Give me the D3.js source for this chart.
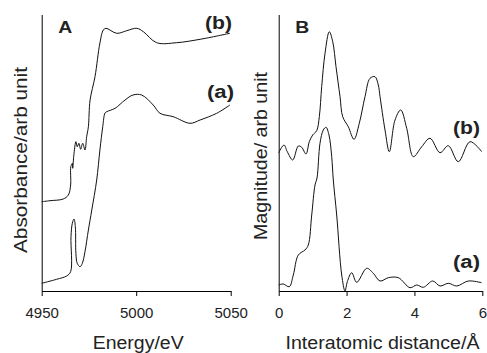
<!DOCTYPE html>
<html>
<head>
<meta charset="utf-8">
<script src="https://cdn.jsdelivr.net/npm/d3@7"></script>
<style>
  body { margin: 0; background: #fff; }
  svg { display: block; font-family: "Liberation Sans", Arial, sans-serif; }
</style>
</head>
<body>
<svg id="chart" width="487" height="353"></svg>
<script>
// Panel A: XANES, energy (eV) vs absorbance (arb. unit)
const energyA = [4950, 4957.9, 4963.2, 4965.3, 4965.5, 4966.2, 4967.1, 4967.8, 4968.1, 4968.8, 4970.3, 4971.5, 4972.9, 4974.7, 4976.5, 4979.1, 4980.8, 4982.3, 4983.5, 4984.4, 4988.8, 4994.1, 4998.3, 5002.9, 5009.0, 5012.6, 5019.6, 5028.5, 5033.8, 5042.6, 5049.6];
const absA    = [0.077, 0.117, 0.15, 0.193, 0.543, 0.677, 0.72, 0.643, 0.377, 0.277, 0.243, 0.277, 0.393, 0.61, 0.81, 1.11, 1.41, 1.643, 1.78, 1.793, 1.827, 1.91, 1.96, 1.96, 1.86, 1.777, 1.743, 1.677, 1.71, 1.777, 1.86];

const energyB = [4950, 4954.4, 4961.4, 4964.1, 4965.3, 4965.4, 4966.2, 4966.4, 4967.1, 4968.1, 4968.8, 4969.7, 4970.6, 4971.7, 4972.9, 4973.8, 4974.7, 4975.6, 4978.2, 4980.8, 4982.6, 4984.0, 4989.7, 4995.0, 5000.3, 5003.8, 5010.8, 5021.4, 5033.8, 5049.6];
const absB    = [0.893, 0.903, 0.92, 0.96, 1.06, 1.243, 1.277, 1.227, 1.377, 1.493, 1.443, 1.477, 1.417, 1.477, 1.41, 1.543, 1.643, 1.91, 2.143, 2.48, 2.61, 2.627, 2.577, 2.603, 2.627, 2.593, 2.483, 2.483, 2.517, 2.577];

// Panel B: Fourier transform magnitude vs interatomic distance (Å)
const distA = [0, 0.136, 0.312, 0.43, 0.578, 0.775, 0.872, 0.973, 1.07, 1.129, 1.217, 1.314, 1.394, 1.482, 1.562, 1.609, 1.709, 1.857, 1.954, 2.022, 2.151, 2.299, 2.594, 2.788, 2.986, 3.23, 3.525, 3.87, 4.067, 4.262, 4.539, 4.754, 4.998, 5.246, 5.588, 5.98];
const magA  = [0.06, 0.07, 0.043, 0.16, 0.36, 0.41, 0.46, 0.76, 1.06, 1.13, 1.477, 1.61, 1.637, 1.56, 1.343, 1.11, 0.76, 0.16, 0, 0.093, 0.183, 0.087, 0.227, 0.177, 0.1, 0.133, 0.133, 0.033, 0.06, 0.037, 0.1, 0.05, 0.077, 0.05, 0.1, 0.083];

const distB = [0, 0.156, 0.253, 0.413, 0.578, 0.678, 0.805, 0.902, 1.002, 1.12, 1.197, 1.267, 1.365, 1.491, 1.592, 1.689, 1.807, 1.886, 2.051, 2.219, 2.375, 2.543, 2.691, 2.838, 2.935, 2.986, 3.133, 3.26, 3.428, 3.596, 3.772, 3.967, 4.215, 4.459, 4.754, 4.998, 5.293, 5.638, 5.983];
const magB  = [1.383, 1.46, 1.393, 1.31, 1.45, 1.437, 1.37, 1.493, 1.56, 1.603, 1.743, 2.043, 2.377, 2.593, 2.493, 2.243, 1.943, 1.743, 1.643, 1.517, 1.677, 1.943, 2.127, 2.143, 2.06, 1.943, 1.61, 1.393, 1.71, 1.81, 1.627, 1.343, 1.443, 1.527, 1.383, 1.453, 1.293, 1.493, 1.393];

const energyTicks = [4950, 5000, 5050];
const distTicks = [0, 2, 4, 6];

const svg = d3.select("#chart");
const plotTop = 15, plotBottom = 291;

// scales
const xA = d3.scaleLinear().domain([4950, 5050]).range([41.7, 230.7]);
const xB = d3.scaleLinear().domain([0, 6]).range([278.7, 482.3]);
const y = d3.scaleLinear().domain([0, 2.76]).range([plotBottom, plotTop]);

const line = (xs, ys, xScale, curve) => d3.line()
  .curve(curve)
  .x((d, i) => xScale(xs[i]))
  .y((d, i) => y(ys[i]))(xs);

// the source font is a bit wider than Liberation Sans, so stretch to measured widths
function drawPanel(xScale, ticks, title, titleW, ylabel, ylabelW, letter, ylabelX, ylabelY) {
  const [x0, x1] = xScale.range();

  const ax = svg.append("g")
    .attr("transform", `translate(0,${plotBottom})`)
    .call(d3.axisBottom(xScale).tickValues(ticks).tickFormat(d3.format("d"))
      .tickSize(5).tickSizeOuter(0).tickPadding(11));
  ax.select(".domain").attr("stroke", "#000");
  ax.selectAll(".tick line").attr("stroke", "#000");
  ax.selectAll(".tick text")
    .attr("font-size", 15).attr("fill", "#222")
    .attr("font-family", "Liberation Sans, Arial, sans-serif");

  svg.append("line")
    .attr("x1", x0 + 0.5).attr("x2", x0 + 0.5)
    .attr("y1", plotTop).attr("y2", plotBottom)
    .attr("stroke", "#000");

  svg.append("text")
    .attr("x", (x0 + x1) / 2 + 2).attr("y", 349)
    .attr("text-anchor", "middle")
    .attr("font-size", 17.5).attr("fill", "#222")
    .attr("textLength", titleW).attr("lengthAdjust", "spacingAndGlyphs")
    .text(title);

  svg.append("text")
    .attr("transform", `translate(${ylabelX},${ylabelY}) rotate(-90)`)
    .attr("text-anchor", "middle")
    .attr("font-size", 18).attr("fill", "#222")
    .attr("textLength", ylabelW).attr("lengthAdjust", "spacingAndGlyphs")
    .text(ylabel);

  svg.append("text")
    .attr("x", x0 + 16.5).attr("y", 33)
    .attr("font-size", 16.5).attr("font-weight", "bold").attr("fill", "#222")
    .attr("textLength", 14).attr("lengthAdjust", "spacingAndGlyphs")
    .text(letter);
}

drawPanel(xA, energyTicks, "Energy/eV", 91, "Absorbance/arb unit", 186, "A", 27, 160);
drawPanel(xB, distTicks, "Interatomic distance/Å", 194, "Magnitude/ arb unit", 168, "B", 267, 156);

const smooth = d3.curveCatmullRom.alpha(0.5);
const curves = [
  [energyA, absA, xA],
  [energyB, absB, xA],
  [distA, magA, xB],
  [distB, magB, xB]
];
curves.forEach(([xs, ys, sc]) => {
  svg.append("path")
    .attr("d", line(xs, ys, sc, smooth))
    .attr("fill", "none")
    .attr("stroke", "#111")
    .attr("stroke-width", 1);
});

// series labels
const labels = [
  ["(b)", 205, 29],
  ["(a)", 207, 98],
  ["(b)", 453, 134],
  ["(a)", 453, 268]
];
svg.selectAll("text.lab").data(labels).enter().append("text")
  .attr("class", "lab")
  .attr("x", d => d[1]).attr("y", d => d[2])
  .attr("font-size", 17.5).attr("font-weight", "bold").attr("fill", "#222")
  .attr("textLength", 27).attr("lengthAdjust", "spacingAndGlyphs")
  .text(d => d[0]);
</script>
</body>
</html>
